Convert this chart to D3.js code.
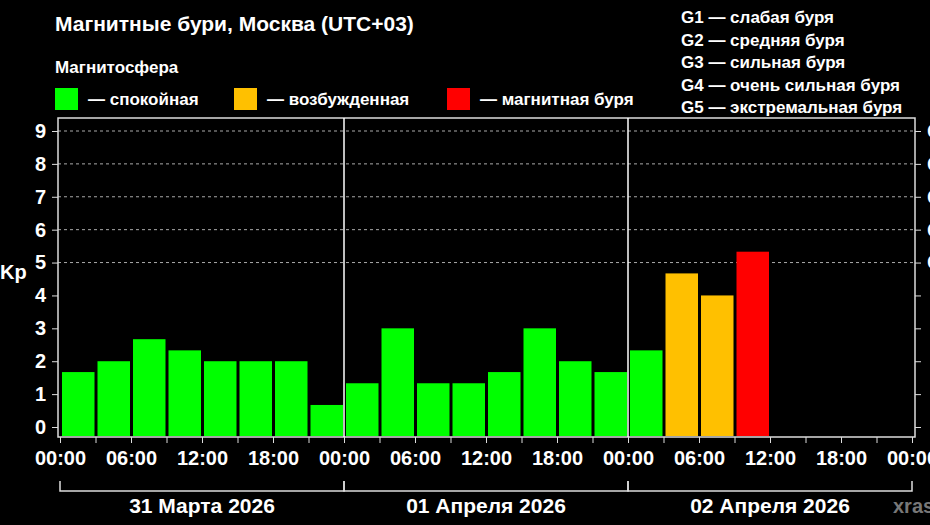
<!DOCTYPE html><html><head><meta charset="utf-8"><script src="https://cdn.jsdelivr.net/npm/d3@7"></script>
<style>body{margin:0;background:#000}text{font-family:"Liberation Sans",Arial,sans-serif;font-weight:bold;fill:#fff}</style></head><body>
<svg id="c" width="930" height="525"></svg>
<script>
const days=["31 Марта 2026","01 Апреля 2026","02 Апреля 2026"];
const kp=[1.67,2,2.67,2.33,2,2,2,0.67, 1.33,3,1.33,1.33,1.67,3,2,1.67, 2.33,4.67,4,5.33];
const hourLabels=["00:00","06:00","12:00","18:00"];
const levels=[{t:"спокойная",c:"#00ff00"},{t:"возбужденная",c:"#ffc000"},{t:"магнитная буря",c:"#ff0000"}];
const gLegend=["G1 — слабая буря","G2 — средняя буря","G3 — сильная буря","G4 — очень сильная буря","G5 — экстремальная буря"];
const svg=d3.select("#c");
svg.append("rect").attr("width",930).attr("height",525).attr("fill","#000");
const x=d3.scaleLinear().domain([0,72]).range([60,912]);
const y=d3.scaleLinear().domain([0,9]).range([427,131]);
const L=58,R=915,T=118,B=437;
[5,6,7,8,9].forEach(v=>svg.append("line").attr("x1",L).attr("x2",R).attr("y1",y(v)).attr("y2",y(v)).attr("stroke","#aaa").attr("stroke-dasharray","3,3").attr("stroke-width",1));
svg.selectAll(".b").data(kp).join("rect").attr("x",(d,i)=>x(i*3)+2).attr("width",x(3)-x(0)-3)
 .attr("y",d=>y(d)).attr("height",d=>B-y(d)-1)
 .attr("fill",d=>d>=5?levels[2].c:d>=4?levels[1].c:levels[0].c);
svg.append("rect").attr("x",L).attr("y",T).attr("width",R-L).attr("height",B-T).attr("fill","none").attr("stroke","#ddd").attr("stroke-width",1.5);
[24,48].forEach(h=>svg.append("line").attr("x1",x(h)).attr("x2",x(h)).attr("y1",T).attr("y2",B).attr("stroke","#fff").attr("stroke-width",1.5));
const ya=svg.append("g").attr("transform",`translate(${L},0)`).call(d3.axisLeft(y).ticks(9).tickSize(6).tickPadding(6));
ya.select(".domain").remove();
ya.selectAll("line").attr("stroke","#ddd");ya.selectAll("text").attr("font-size",20).attr("font-family","Liberation Sans").attr("fill","#fff");
const yr=svg.append("g").attr("transform",`translate(${R},0)`).call(d3.axisRight(y).ticks(9).tickSize(6).tickPadding(6).tickFormat(d=>d>=5?"G"+(d-4):""));
yr.select(".domain").remove();
yr.selectAll("line").attr("stroke","#ddd");yr.selectAll("text").attr("font-size",20).attr("font-family","Liberation Sans").attr("fill","#fff");
svg.append("text").attr("x",0).attr("y",279).attr("font-size",20).text("Kp");
const xa=svg.append("g").attr("transform",`translate(0,${B})`).call(d3.axisBottom(x).tickValues(d3.range(0,73,3)).tickSize(6).tickPadding(8).tickFormat(d=>d%6===0?hourLabels[(d%24)/6]:""));
xa.select(".domain").remove();
xa.selectAll("line").attr("stroke","#ddd");xa.selectAll("text").attr("font-size",20).attr("font-family","Liberation Sans").attr("fill","#fff");
days.forEach((d,i)=>{
 const a=x(i*24),b=x(i*24+24);
 svg.append("path").attr("d",`M${a},481V491H${b}V481`).attr("fill","none").attr("stroke","#ddd").attr("stroke-width",1.5);
 svg.append("text").attr("x",(a+b)/2).attr("y",513).attr("text-anchor","middle").attr("font-size",21).text(d);
});
svg.append("text").attr("x",893).attr("y",513).attr("font-size",20).style("fill","#777").text("xras");
svg.append("text").attr("x",55).attr("y",31).attr("font-size",21).text("Магнитные бури, Москва (UTC+03)");
svg.append("text").attr("x",55).attr("y",73).attr("font-size",17).text("Магнитосфера");
const lx=[55,234,447];
levels.forEach((l,i)=>{
 svg.append("rect").attr("x",lx[i]).attr("y",88).attr("width",23).attr("height",22).attr("fill",l.c);
 svg.append("text").attr("x",lx[i]+33).attr("y",105).attr("font-size",17).text("— "+l.t);
});
gLegend.forEach((t,i)=>svg.append("text").attr("x",681).attr("y",23+i*22.5).attr("font-size",17).text(t));
</script></body></html>
